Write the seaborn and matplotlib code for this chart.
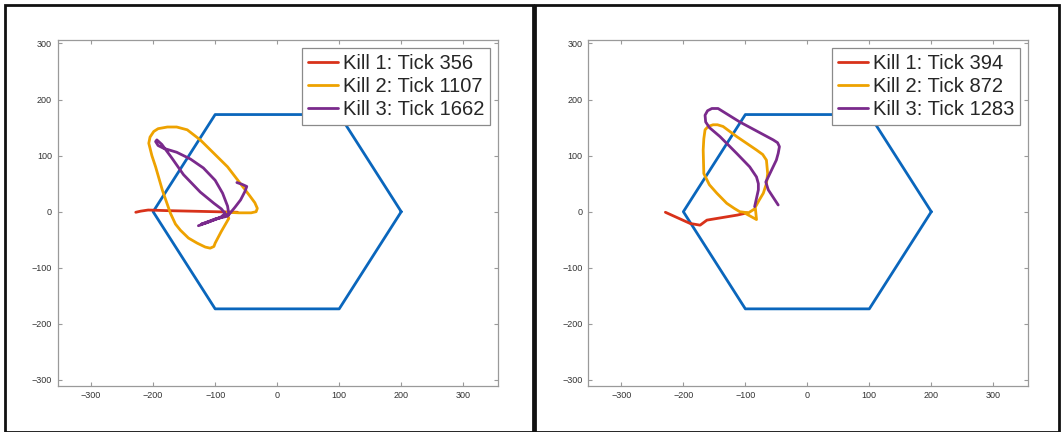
import numpy as np
import pandas as pd
import matplotlib
matplotlib.use("Agg")
import matplotlib.pyplot as plt
import seaborn as sns
from matplotlib.lines import Line2D
from matplotlib.patches import Rectangle

sns.set_style("white")
plt.rcParams['font.family'] = ['Liberation Sans', 'DejaVu Sans']

# Arena hexagon
hex_x = [200, 100, -100, -200, -100, 100, 200]
hex_y = [0, 173.2, 173.2, 0, -173.2, -173.2, 0]

# Left panel trajectories
L_labels = ["Kill 1: Tick 356", "Kill 2: Tick 1107", "Kill 3: Tick 1662"]
L_k1_x = [-228, -220, -208, -180, -140, -100, -64]
L_k1_y = [-1, 1, 3, 2, 1, 0, -1]
L_k2_x = [-81, -62, -42, -34, -32, -36, -44, -80, -124, -145, -162, -177, -192, -199, -205, -207,
          -202, -196, -185, -172, -164, -156, -143, -129, -116, -108, -102, -100, -90, -78, -81]
L_k2_y = [-1, -2, -2, 0, 6, 16, 28, 80, 128, 146, 151, 151, 148, 143, 133, 122,
          100, 80, 38, -3, -22, -33, -47, -56, -63, -65, -62, -56, -35, -12, -3]
L_k3_x = [-127, -110, -90, -84, -90, -102, -124, -151, -170, -186, -194, -196, -192, -183, -162,
          -140, -119, -100, -88, -80, -78, -90, -115, -122, -100, -80, -68, -59, -52, -49, -57, -65]
L_k3_y = [-25, -18, -9, -3, 5, 15, 35, 66, 96, 120, 128, 125, 118, 113, 106,
          94, 78, 56, 33, 10, -4, -10, -20, -22, -13, -8, 8, 21, 36, 45, 49, 52]

# Right panel trajectories
R_labels = ["Kill 1: Tick 394", "Kill 2: Tick 872", "Kill 3: Tick 1283"]
R_k1_x = [-229, -189, -173, -162, -113, -97]
R_k1_y = [-1, -21, -24, -15, -6, -2]
R_k2_x = [-100, -82, -84, -78, -71, -66, -64, -66, -72, -82, -114, -136, -145, -152, -160, -165,
          -167, -168, -167, -158, -146, -130, -118, -109, -95, -85]
R_k2_y = [-3, -14, 8, 20, 33, 50, 68, 92, 102, 110, 134, 152, 155, 155, 152, 146,
          130, 110, 68, 48, 33, 15, 6, 0, -2, 5]
R_k3_x = [-85, -79, -79, -82, -93, -114, -141, -158, -164, -165, -161, -154, -144, -109, -55, -48,
          -45, -47, -50, -63, -67, -63, -47]
R_k3_y = [9, 39, 50, 62, 80, 104, 134, 150, 160, 172, 180, 184, 184, 160, 128, 123,
          116, 104, 92, 62, 53, 39, 12]

colors = ["#D8321A", "#EEA200", "#7A2A8C"]
hex_color = "#0A66BC"

fig = plt.figure(figsize=(10.62, 4.32), dpi=100)

# panel frames
fig.patches.append(Rectangle((5/1062, 0.0), (533-5)/1062, (427)/432, transform=fig.transFigure,
                             fill=False, edgecolor="#111111", linewidth=2.0))
fig.patches.append(Rectangle((535/1062, 0.0), (1059-535)/1062, (427)/432, transform=fig.transFigure,
                             fill=False, edgecolor="#111111", linewidth=2.0))

axes_pos = [[57.6/1062, 1-385.6/432, (498-57.6)/1062, (385.6-39.5)/432],
            [587.9/1062, 1-385.6/432, (1028-587.9)/1062, (385.6-39.5)/432]]

panels = [
    (L_labels, [(L_k1_x, L_k1_y), (L_k2_x, L_k2_y), (L_k3_x, L_k3_y)]),
    (R_labels, [(R_k1_x, R_k1_y), (R_k2_x, R_k2_y), (R_k3_x, R_k3_y)]),
]

for pos, (labels, trajs) in zip(axes_pos, panels):
    ax = fig.add_axes(pos)
    hdf = pd.DataFrame({"x": hex_x, "y": hex_y})
    sns.lineplot(data=hdf, x="x", y="y", sort=False, estimator=None, ax=ax,
                 color=hex_color, linewidth=2.0)
    handles = []
    for (tx, ty), c, lab in zip(trajs, colors, labels):
        df = pd.DataFrame({"x": tx, "y": ty})
        sns.lineplot(data=df, x="x", y="y", sort=False, estimator=None, ax=ax,
                     color=c, linewidth=2.0)
        handles.append(Line2D([], [], color=c, linewidth=2.0, label=lab))
    ax.set_xlim(-354, 356)
    ax.set_ylim(-310, 307)
    ax.set_xticks([-300, -200, -100, 0, 100, 200, 300])
    ax.set_yticks([-300, -200, -100, 0, 100, 200, 300])
    ax.set_xlabel("")
    ax.set_ylabel("")
    ax.tick_params(direction="in", length=3, width=0.8, color="#9a9a9a",
                   labelsize=6.5, labelcolor="#333333", top=True, right=True,
                   left=True, bottom=True, pad=4)
    for s in ax.spines.values():
        s.set_color("#9a9a9a")
        s.set_linewidth(0.9)
    leg = ax.legend(handles=handles, loc="upper right", fontsize=14.5,
                    handlelength=1.5, handletextpad=0.2, labelspacing=0.2,
                    borderpad=0.3, borderaxespad=0.4, fancybox=False, framealpha=1)
    leg.get_frame().set_edgecolor("#8a8a8a")
    leg.get_frame().set_linewidth(0.9)

fig.savefig("out.png", dpi=100)
